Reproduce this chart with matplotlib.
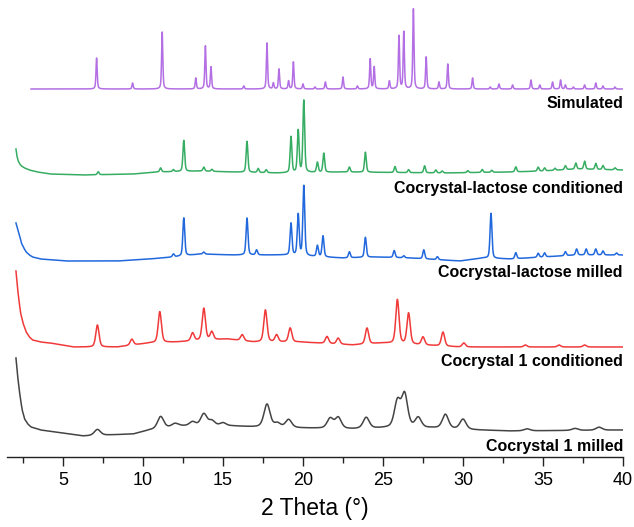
import numpy as np
import matplotlib
matplotlib.use('Agg')
import matplotlib.pyplot as plt

plt.rcParams['font.family'] = ['Liberation Sans', 'DejaVu Sans']

# Peak lists: position (2 theta), height (a.u.)
sim_pos = [7.1, 9.35, 11.2, 13.3, 13.9, 14.25, 16.3, 17.75, 18.15, 18.5, 19.1, 19.4, 20.0, 20.75,
           21.4, 22.5, 23.4, 24.2, 24.45, 25.4, 26.0, 26.3, 26.9, 27.7, 28.5, 29.05, 30.6, 31.7,
           32.25, 33.1, 34.25, 34.8, 35.6, 36.1, 36.4, 36.9, 37.6, 38.3, 38.75, 39.5]
sim_h = [31, 6, 57, 11, 43, 22, 3, 46, 6, 20, 8, 27, 5, 2,
         7, 12, 3, 30, 22, 8, 53, 57, 80, 32, 7, 25, 11, 2,
         5, 4, 9, 4, 7, 9, 4, 2, 4, 6, 3, 2]

cond_pos = [7.2, 11.1, 11.9, 12.55, 13.8, 14.3, 16.5, 17.2, 17.7, 19.25, 19.7, 20.05, 20.9, 21.3,
            22.9, 23.9, 25.75, 26.6, 27.6, 28.3, 28.7, 30.3, 31.2, 31.8, 33.3, 34.7, 35.1, 35.75,
            36.4, 37.05, 37.6, 38.3, 38.75, 39.5]
cond_h = [3, 4, 2, 31, 4, 2, 31, 4, 3, 36, 42, 72, 10, 19,
          5, 20, 6, 3, 7, 3, 2, 2, 3, 2, 5, 4, 3, 2,
          4, 6, 8, 6, 4, 2]

lmill_pos = [11.9, 12.55, 13.8, 16.5, 17.1, 19.25, 19.7, 20.05, 20.9, 21.25, 22.9, 23.9, 25.7,
             26.3, 27.55, 28.4, 31.75, 33.3, 34.7, 35.1, 36.4, 37.1, 37.7, 38.3, 38.75, 39.6]
lmill_h = [3, 38, 2, 37, 5, 32, 41, 70, 11, 21, 6, 20, 7,
           2, 9, 3, 45, 6, 4, 4, 4, 6, 6, 6, 4, 2]

c1cond_pos = [7.15, 9.3, 11.05, 13.1, 13.8, 14.3, 16.2, 17.65, 18.35, 19.2, 21.5, 22.2, 24.0,
              25.9, 26.6, 27.5, 28.75, 30.05, 33.9, 36.0, 37.6]
c1cond_h = [22, 6, 31, 8, 32, 8, 6, 32, 7, 14, 7, 6, 16,
            44, 31, 8, 14, 4, 2, 2, 2]

c1mill_pos = [7.15, 11.1, 12.0, 13.1, 13.8, 14.3, 15.0, 17.75, 18.4, 19.1, 21.7, 22.2, 23.95,
              25.9, 26.35, 27.2, 28.9, 30.0, 34.0, 37.0, 38.5]
c1mill_h = [6, 12, 3, 4, 12, 5, 3, 23, 4, 8, 10, 11, 11,
            26, 33, 10, 14, 10, 2, 2, 3]

# Background levels (a.u.) read at a few angles
sim_bg_x = [3.0, 40.0]
sim_bg_y = [0, 0]
cond_bg_x = [2.06, 2.12, 2.2, 2.3, 2.4, 2.6, 2.9, 3.4, 4.2, 6.25, 9.4, 10.9, 13.6, 15.6, 18.4, 22.5,
             28.75, 33.0, 35.0, 37.1, 40.0]
cond_bg_y = [23, 16, 11, 8, 6, 4, 2, 0, -2, -3, -2, 0, 1, 0, -1, 0, -1, 0, 1, 3, 2]
lmill_bg_x = [2.06, 2.15, 2.3, 2.4, 2.55, 2.7, 2.9, 3.1, 3.6, 5.2, 8.4, 10.4, 11.9, 13.6, 15.6, 18.75,
              22.5, 24.6, 26.7, 29.8, 31.25, 33.0, 35.0, 37.1, 40.0]
lmill_bg_y = [35, 30, 22, 15, 10, 6, 3, 1, -1, -3, -3, -1, 1, 4, 3, 3, 0, 1, 0, -3, 0, -1, 1, 3, 3]
c1cond_bg_x = [2.06, 2.15, 2.25, 2.35, 2.5, 2.7, 2.9, 3.1, 3.6, 4.2, 5.65, 8.4, 10.4, 12.1, 15.25,
               16.9, 19.8, 23.1, 25.0, 29.8, 33.0, 40.0]
c1cond_bg_y = [74, 58, 44, 32, 22, 13, 8, 5, 3, 2, -2, -2, 2, 3, 6, 3, 3, 0, 2, -2, -2, -2]
c1mill_bg_x = [2.06, 2.15, 2.25, 2.35, 2.45, 2.6, 2.8, 3.0, 3.6, 5.0, 6.25, 9.4, 10.4, 12.3, 15.6,
               16.9, 19.8, 23.1, 25.25, 28.1, 30.9, 33.0, 40.0]
c1mill_bg_y = [72, 56, 42, 30, 20, 11, 6, 3, 0, -3, -6, -4, 0, 4, 4, 3, 2, 1, 2, 2, 0, -1, 0]

labels = ['Simulated', 'Cocrystal-lactose conditioned', 'Cocrystal-lactose milled',
          'Cocrystal 1 conditioned', 'Cocrystal 1 milled']
offsets = [368, 285, 199, 112, 27]
label_y = [349, 264, 180, 91, 6]


def pattern(x, pos, h, fwhm, eta):
    y = np.zeros_like(x)
    for p, a in zip(pos, h):
        d = (x - p) / fwhm
        y += a * (eta / (1 + 4 * d ** 2) + (1 - eta) * np.exp(-4 * np.log(2) * d ** 2))
    return y


traces = [
    (3.0, sim_pos, sim_h, 0.09, 0.5, sim_bg_x, sim_bg_y, '#b36fe3'),
    (2.06, cond_pos, cond_h, 0.13, 0.4, cond_bg_x, cond_bg_y, '#36ad62'),
    (2.06, lmill_pos, lmill_h, 0.14, 0.4, lmill_bg_x, lmill_bg_y, '#2168dd'),
    (2.06, c1cond_pos, c1cond_h, 0.24, 0.4, c1cond_bg_x, c1cond_bg_y, '#f03a3a'),
    (2.06, c1mill_pos, c1mill_h, 0.45, 0.4, c1mill_bg_x, c1mill_bg_y, '#444444'),
]

fig = plt.figure(figsize=(6.34, 5.27), dpi=100)
ax = fig.add_axes([7 / 634, 70 / 527, 616 / 634, 457 / 527])

for (x0, pos, h, w, eta, bx, by, col), off in zip(traces, offsets):
    x = np.arange(x0, 40.0001, 0.01)
    y = off + np.interp(x, bx, by) + pattern(x, pos, h, w, eta)
    ax.plot(x, y, color=col, lw=1.1)

for lab, ly in zip(labels, label_y):
    ax.text(40, ly, lab, ha='right', va='baseline', fontsize=11.5, fontweight='bold')

ax.set_xlim(1.5, 40)
ax.set_ylim(0, 457)
ax.set_yticks([])
for s in ['left', 'right', 'top']:
    ax.spines[s].set_visible(False)
ax.spines['bottom'].set_linewidth(1.0)
ax.spines['bottom'].set_color('#222222')
ax.set_xticks([5, 10, 15, 20, 25, 30, 35, 40])
ax.set_xticks(np.arange(2.5, 40, 5), minor=True)
ax.tick_params(axis='x', which='major', length=6.5, width=1.0, labelsize=13, pad=4, color='#222222')
ax.tick_params(axis='x', which='minor', length=4, width=1.0, color='#222222')
ax.set_xlabel('2 Theta (°)', fontsize=16.5, labelpad=6)
ax.patch.set_alpha(0)

fig.savefig('out.png', dpi=100)
